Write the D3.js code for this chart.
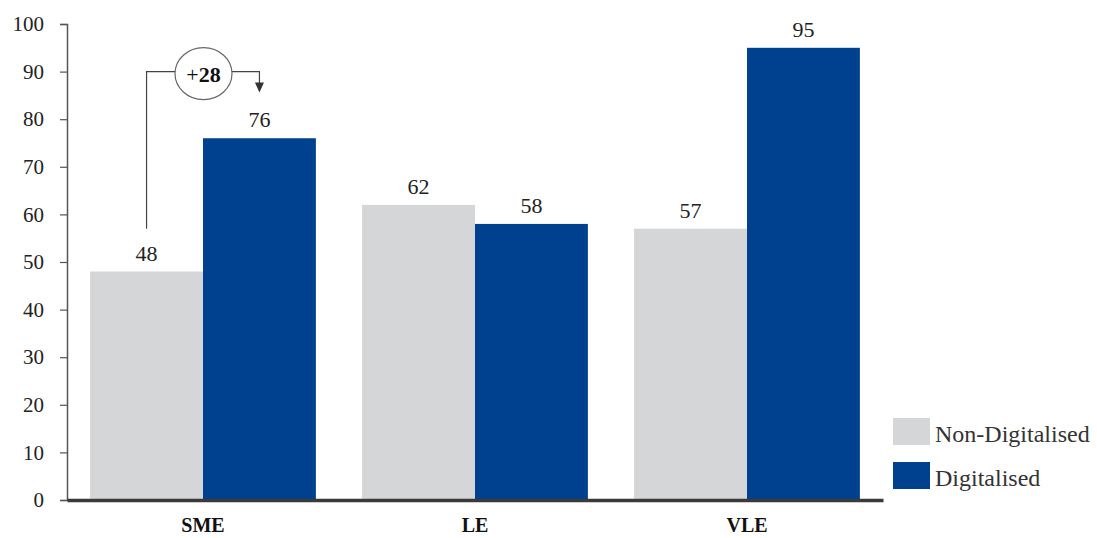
<!DOCTYPE html>
<html>
<head>
<meta charset="utf-8">
<script src="https://cdn.jsdelivr.net/npm/d3@7"></script>
<style>
  html, body { margin: 0; padding: 0; background: #fff; }
  svg { display: block; }
  svg text { font-family: "Liberation Serif", "Times New Roman", serif; }
</style>
</head>
<body>
<svg id="chart" width="1097" height="538"></svg>
<script>
// Scores by enterprise size, non-digitalised vs digitalised
const categories = ["SME", "LE", "VLE"];
const seriesNames = ["Non-Digitalised", "Digitalised"];
const nonDigitalised = [48, 62, 57];
const digitalised = [76, 58, 95];
const yTicks = [0, 10, 20, 30, 40, 50, 60, 70, 80, 90, 100];
const colors = ["#d5d6d8", "#00418f"];

const svg = d3.select("#chart");
const x0 = 67, x1 = 883, yBottom = 500, yTop = 24;

const x = d3.scaleBand().domain(categories).range([x0, x1])
  .paddingInner(0.17).paddingOuter(0.085);
const xs = d3.scaleBand().domain(seriesNames).range([0, x.bandwidth()]);
const y = d3.scaleLinear().domain([0, 100]).range([yBottom, yTop]);

const rows = categories.map((c, i) => ({
  cat: c,
  values: [nonDigitalised[i], digitalised[i]]
}));

// Bars
const g = svg.append("g");
const groups = g.selectAll("g.grp").data(rows).join("g")
  .attr("transform", d => `translate(${x(d.cat)},0)`);
groups.selectAll("rect").data(d => d.values.map((v, k) => ({ v, k })))
  .join("rect")
  .attr("x", d => xs(seriesNames[d.k]))
  .attr("width", xs.bandwidth())
  .attr("y", d => y(d.v))
  .attr("height", d => y(0) - y(d.v))
  .attr("fill", d => colors[d.k]);

// Value labels
groups.selectAll("text.val").data(d => d.values.map((v, k) => ({ v, k })))
  .join("text")
  .attr("x", d => xs(seriesNames[d.k]) + xs.bandwidth() / 2)
  .attr("y", d => y(d.v) - 11)
  .attr("text-anchor", "middle")
  .attr("font-size", 22)
  .attr("fill", "#222")
  .text(d => d.v);

// Y axis
const yAxis = d3.axisLeft(y).tickValues(yTicks).tickSize(7).tickPadding(16);
const ya = svg.append("g").attr("transform", `translate(${x0},0)`).call(yAxis);
ya.attr("font-family", null);
ya.select(".domain").attr("stroke", "#555").attr("stroke-width", 1.5);
ya.selectAll(".tick line").attr("stroke", "#555").attr("stroke-width", 1.2);
ya.selectAll(".tick text").attr("font-size", 21).attr("fill", "#222");

// X axis
const xAxis = d3.axisBottom(x).tickSize(0).tickPadding(18);
const xa = svg.append("g").attr("transform", `translate(0,${yBottom})`).call(xAxis);
xa.attr("font-family", null);
xa.select(".domain").attr("stroke", "#3a3a3a").attr("stroke-width", 3.5);
xa.selectAll(".tick text").attr("font-size", 20).attr("font-weight", "bold")
  .attr("fill", "#111");

// Change annotation for SME
const smeL = x("SME") + xs(seriesNames[0]) + xs.bandwidth() / 2;
const smeR = x("SME") + xs(seriesNames[1]) + xs.bandwidth() / 2;
const diff = digitalised[0] - nonDigitalised[0];
const yLine = y(90);
svg.append("path")
  .attr("d", `M${smeL},${y(57)} V${yLine} H${smeR} V${yLine + 12}`)
  .attr("fill", "none").attr("stroke", "#444").attr("stroke-width", 1.2);
svg.append("path")
  .attr("d", `M${smeR - 4.5},${yLine + 11} L${smeR + 4.5},${yLine + 11} L${smeR},${yLine + 21} Z`)
  .attr("fill", "#333");
const cx = (smeL + smeR) / 2 + 0.5;
svg.append("ellipse")
  .attr("cx", cx).attr("cy", yLine + 2).attr("rx", 28.5).attr("ry", 26)
  .attr("fill", "#fff").attr("stroke", "#666").attr("stroke-width", 1.2);
const ann = svg.append("text")
  .attr("x", cx).attr("y", yLine + 10)
  .attr("text-anchor", "middle").attr("font-size", 22).attr("fill", "#111");
ann.append("tspan").text("+");
ann.append("tspan").attr("font-weight", "bold").text(diff);

// Legend
const leg = svg.append("g").attr("transform", "translate(893,418)");
seriesNames.forEach((s, i) => {
  const row = leg.append("g").attr("transform", `translate(0,${i * 44})`);
  row.append("rect").attr("width", 37).attr("height", 27).attr("fill", colors[i]);
  row.append("text").attr("x", 42).attr("y", 24).attr("font-size", 24)
    .attr("fill", "#333").text(s);
});
</script>
</body>
</html>
